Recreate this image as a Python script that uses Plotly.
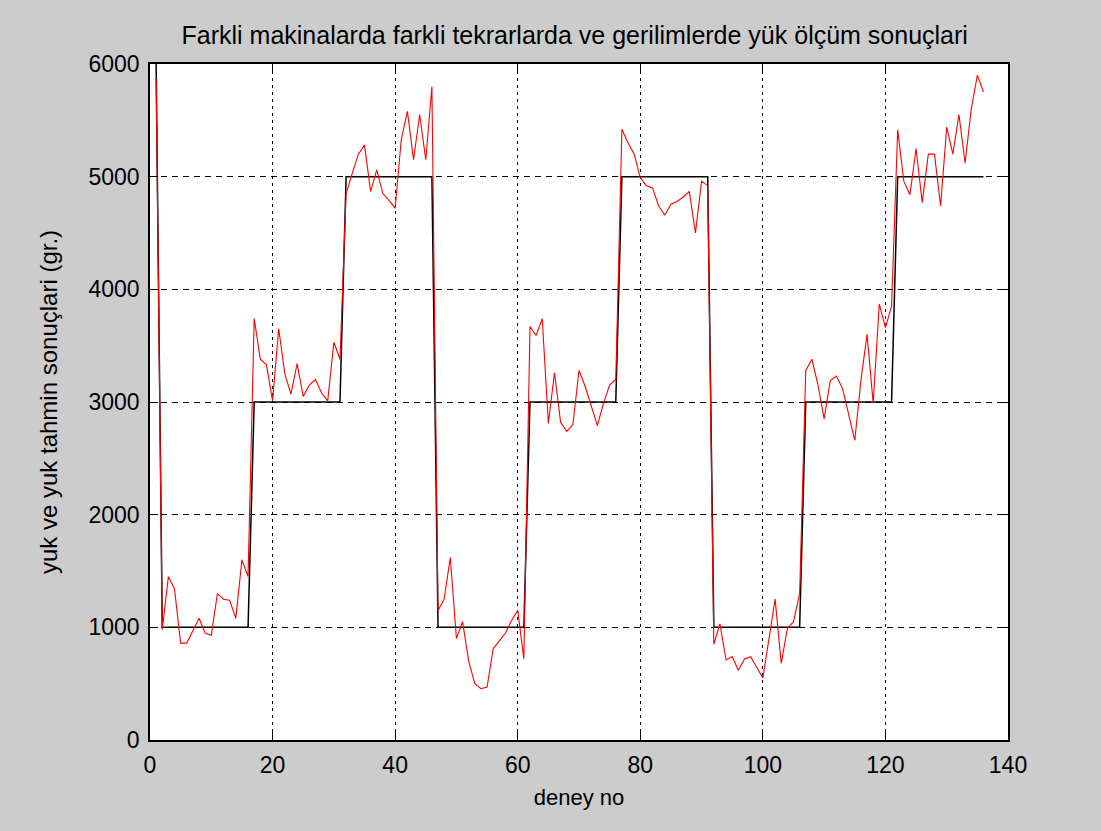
import plotly.graph_objects as go

# experiment number (x axis)
deney_no = list(range(1, 137))

# target load levels (black step line)
target_first = [6000]
target_levels = [1000, 3000, 5000, 1000, 3000, 5000, 1000, 3000, 5000]
points_per_level = 15
yuk = target_first + [lvl for lvl in target_levels for _ in range(points_per_level)]

# estimated load (red line)
tahmin = [
    5880, 980, 1450, 1340, 860, 860, 970, 1080, 950, 930, 1300, 1250, 1240, 1080, 1600, 1450,
    3740, 3380, 3330, 3010, 3650, 3250, 3070, 3340, 3050, 3150, 3200, 3080, 3010, 3530, 3380,
    4850, 5030, 5200, 5280, 4870, 5060, 4850, 4790, 4720, 5330, 5580, 5150, 5550, 5150, 5800,
    1150, 1250, 1620, 900, 1050, 700, 500, 455, 470, 810, 880, 950, 1060, 1150, 720,
    3670, 3590, 3740, 2810, 3260, 2820, 2740, 2800, 3280, 3140, 2960, 2790, 2990, 3150, 3200,
    5420, 5300, 5200, 4990, 4920, 4900, 4740, 4660, 4755, 4780, 4820, 4870, 4500, 4960, 4920,
    850, 1030, 710, 740, 620, 720, 740, 640, 550, 900, 1250, 680, 990, 1050, 1300,
    3280, 3380, 3150, 2850, 3190, 3230, 3120, 2900, 2660, 3190, 3600, 2990, 3870, 3660, 3850,
    5415, 4960, 4840, 5250, 4770, 5200, 5200, 4740, 5440, 5200, 5550, 5120, 5600, 5900, 5750,
]

x_ticks = [0, 20, 40, 60, 80, 100, 120, 140]
y_ticks = [0, 1000, 2000, 3000, 4000, 5000, 6000]

title_text = "Farkli makinalarda farkli tekrarlarda ve gerilimlerde yük ölçüm sonuçlari"
x_title = "deney no"
y_title = "yuk ve yuk tahmin sonuçlari (gr.)"

FONT = "Liberation Sans Narrow, Arial Narrow, Liberation Sans, Arial, sans-serif"

fig = go.Figure()
fig.add_trace(go.Scatter(x=deney_no, y=yuk, mode="lines",
                         line=dict(color="black", width=1.5), showlegend=False))
fig.add_trace(go.Scatter(x=deney_no, y=tahmin, mode="lines",
                         line=dict(color="#ff0000", width=1.1), showlegend=False))

axis_common = dict(
    showline=True, linecolor="black", linewidth=1.5, mirror="ticks",
    ticks="inside", ticklen=8, tickcolor="black", tickwidth=1,
    showgrid=True, gridcolor="black", gridwidth=1,
    zeroline=False, tickfont=dict(family=FONT, size=23, color="black"),
)

fig.update_xaxes(range=[0, 140], tickvals=x_ticks, griddash="3px,4px", ticklabelstandoff=4,
                 title=dict(text=x_title, font=dict(family=FONT, size=22, color="black"), standoff=12),
                 **axis_common)
fig.update_yaxes(range=[0, 6000], tickvals=y_ticks, griddash="6px,5px", ticklabelstandoff=4,
                 title=dict(text=y_title, font=dict(family=FONT, size=24, color="black"), standoff=24),
                 **axis_common)

fig.update_layout(
    width=1101, height=831,
    paper_bgcolor="#cccccc", plot_bgcolor="white",
    margin=dict(l=150, r=93, t=64, b=91),
    title=dict(text=title_text, x=0.522, xanchor="center", y=0.957, yanchor="middle",
               font=dict(family=FONT, size=25, color="black")),
)

fig.write_html("out.html")
